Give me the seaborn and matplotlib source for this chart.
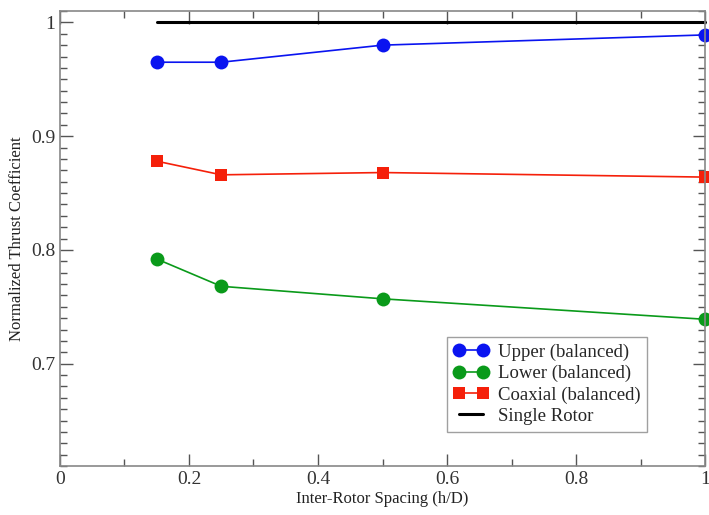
import matplotlib
matplotlib.use("Agg")
import matplotlib.pyplot as plt
import seaborn as sns
import pandas as pd
from matplotlib.ticker import MultipleLocator

spacing = [0.15, 0.25, 0.5, 1.0]
upper = [0.965, 0.965, 0.980, 0.989]
lower = [0.792, 0.768, 0.757, 0.739]
coaxial = [0.878, 0.866, 0.868, 0.864]
single_x = [0.15, 1.0]
single = [1.0, 1.0]

sns.set_theme(style="ticks")
plt.rcParams['font.family'] = ['Liberation Serif', 'DejaVu Serif']

fig = plt.figure(figsize=(7.09, 5.15), dpi=100)
ax = fig.add_axes([0.0846, 0.0951, 0.9098, 0.8835])

df = pd.concat([
    pd.DataFrame({"x": spacing, "y": upper, "s": "Upper (balanced)"}),
    pd.DataFrame({"x": spacing, "y": lower, "s": "Lower (balanced)"}),
    pd.DataFrame({"x": spacing, "y": coaxial, "s": "Coaxial (balanced)"}),
])
palette = {"Upper (balanced)": "#0a14f0", "Lower (balanced)": "#0a9a1a", "Coaxial (balanced)": "#f5200a"}
markers = {"Upper (balanced)": "o", "Lower (balanced)": "o", "Coaxial (balanced)": "s"}
sizes = {"Upper (balanced)": 10, "Lower (balanced)": 10, "Coaxial (balanced)": 9}
for name in ["Upper (balanced)", "Lower (balanced)", "Coaxial (balanced)"]:
    sub = df[df["s"] == name]
    sns.lineplot(data=sub, x="x", y="y", ax=ax, color=palette[name], marker=markers[name],
                 markersize=sizes[name], markeredgewidth=0, linewidth=1.2, label=name, clip_on=False)
sns.lineplot(x=single_x, y=single, ax=ax, color="black", linewidth=2.2, label="Single Rotor", clip_on=False)

ax.set_xlim(0, 1)
ax.set_ylim(0.61, 1.01)
ax.xaxis.set_minor_locator(MultipleLocator(0.1))
ax.yaxis.set_minor_locator(MultipleLocator(0.01))
ax.set_xticks([0, 0.2, 0.4, 0.6, 0.8, 1.0])
ax.set_xticklabels(["0", "0.2", "0.4", "0.6", "0.8", "1"])
ax.set_yticks([0.7, 0.8, 0.9, 1.0])
ax.set_yticklabels(["0.7", "0.8", "0.9", "1"])
ax.tick_params(which="both", direction="in", top=True, right=True, colors="#555555",
               labelcolor="#333333", labelsize=14, width=1)
ax.tick_params(which="major", length=9)
ax.tick_params(which="minor", length=5)
for sp in ax.spines.values():
    sp.set_color("#888888")
    sp.set_linewidth(1.2)
ax.set_xlabel("Inter-Rotor Spacing (h/D)", fontsize=12, color="#222222", labelpad=2)
ax.set_ylabel("Normalized Thrust Coefficient", fontsize=12, color="#222222", labelpad=4)

leg = ax.legend(loc="lower left", bbox_to_anchor=(0.585, 0.055), fontsize=13.5, frameon=True,
                fancybox=False, edgecolor="#888888", handlelength=1.9, numpoints=2, borderpad=0.35,
                labelspacing=0.22, handletextpad=0.5)
leg.get_frame().set_linewidth(1.0)

fig.savefig("out.png", dpi=100)
